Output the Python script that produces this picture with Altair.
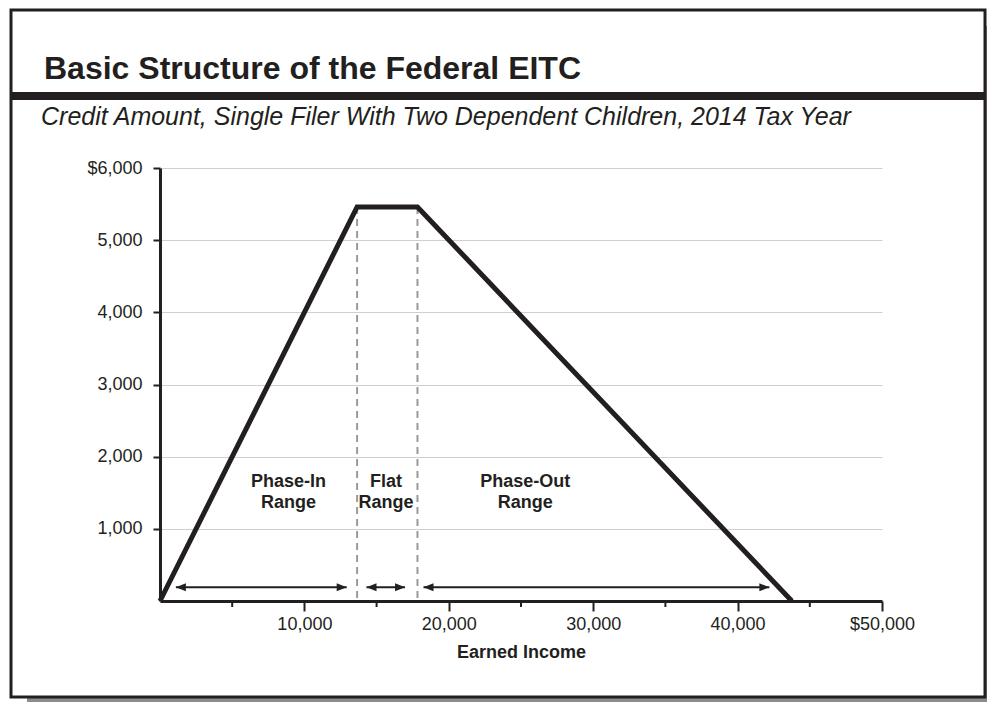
import altair as alt
import pandas as pd

INK = "#231f20"
FONT = "Liberation Sans"

# ---- data ----
income = [0, 13650, 17830, 43756]
credit = [0, 5460, 5460, 0]

bound_income = [13650, 17830]
bound_credit = [5460, 5460]

arrow_start = [1100, 14300, 18250]
arrow_end = [12930, 16970, 42200]
arrow_level = [190, 190, 190]

range_labels = ["Phase-In\nRange", "Flat\nRange", "Phase-Out\nRange"]
label_x = [8900, 15650, 25300]
label_y = [1575, 1575, 1575]

x_major = [10000, 20000, 30000, 40000, 50000]
x_minor = [5000, 15000, 25000, 35000, 45000]
y_ticks = [1000, 2000, 3000, 4000, 5000, 6000]

title_text = "Basic Structure of the Federal EITC"
subtitle_text = "Credit Amount, Single Filer With Two Dependent Children, 2014 Tax Year"
x_title = "Earned Income"

W, H = 722, 433

xs = alt.Scale(domain=[0, 50000], nice=False, zero=True)
ys = alt.Scale(domain=[0, 6000], nice=False, zero=True)

one = pd.DataFrame({"k": [0]})

# frame, shadow, divider
shadow_r = alt.Chart(one).mark_rect(fill="#8c8c8c").encode(
    x=alt.value(826), x2=alt.value(830), y=alt.value(-142), y2=alt.value(534)
)
shadow_b = alt.Chart(one).mark_rect(fill="#8c8c8c").encode(
    x=alt.value(-133), x2=alt.value(830), y=alt.value(530), y2=alt.value(534)
)
frame = alt.Chart(one).mark_rect(fillOpacity=0, stroke=INK, strokeWidth=3).encode(
    x=alt.value(-149), x2=alt.value(825), y=alt.value(-158), y2=alt.value(529)
)
divider = alt.Chart(one).mark_rule(color=INK, strokeWidth=8).encode(
    x=alt.value(-149), x2=alt.value(825), y=alt.value(-72)
)
title = alt.Chart(pd.DataFrame({"t": [title_text]})).mark_text(
    font=FONT, fontSize=32, fontWeight="bold", color=INK, align="left", baseline="alphabetic"
).encode(x=alt.value(-116), y=alt.value(-89), text="t:N")
subtitle = alt.Chart(pd.DataFrame({"t": [subtitle_text]})).mark_text(
    font=FONT, fontSize=25, fontStyle="italic", color=INK, align="left", baseline="alphabetic"
).encode(x=alt.value(-119), y=alt.value(-43), text="t:N")

# dashed boundaries
bounds_df = pd.DataFrame({"income": bound_income, "credit": bound_credit})
bounds = alt.Chart(bounds_df).mark_rule(color="#9a9a9a", strokeWidth=2, strokeDash=[7, 5]).encode(
    x=alt.X("income:Q", scale=xs),
    y=alt.Y("credit:Q", scale=ys),
    y2=alt.datum(0),
)

# minor x ticks
minor_df = pd.DataFrame({"v": x_minor})
minor = alt.Chart(minor_df).mark_rule(color=INK, strokeWidth=2).encode(
    x=alt.X("v:Q", scale=xs), y=alt.value(H), y2=alt.value(H + 6)
)

# main line with axes
line_df = pd.DataFrame({"income": income, "credit": credit})
line = alt.Chart(line_df).mark_line(color=INK, strokeWidth=5, strokeJoin="miter").encode(
    x=alt.X(
        "income:Q",
        scale=xs,
        title=x_title,
        axis=alt.Axis(
            values=x_major,
            labelExpr="datum.value == 50000 ? '$50,000' : format(datum.value, ',')",
            grid=False,
            tickSize=10,
            tickWidth=2,
            tickColor=INK,
            domainColor=INK,
            domainWidth=3,
            labelFont=FONT,
            labelFontSize=18,
            labelColor=INK,
            labelPadding=4,
            labelFlush=False,
            labelOverlap=False,
            titleFont=FONT,
            titleFontSize=18,
            titleFontWeight="bold",
            titleColor=INK,
            titlePadding=10,
        ),
    ),
    y=alt.Y(
        "credit:Q",
        scale=ys,
        title=None,
        axis=alt.Axis(
            values=y_ticks,
            labelExpr="datum.value == 6000 ? '$6,000' : format(datum.value, ',')",
            grid=True,
            gridColor="#cfcfcf",
            gridWidth=1,
            tickSize=7,
            tickWidth=2,
            tickColor=INK,
            domainColor=INK,
            domainWidth=3,
            labelFont=FONT,
            labelFontSize=18,
            labelColor=INK,
            labelPadding=11,
            labelOverlap=False,
        ),
    ),
)

# arrows
arr_df = pd.DataFrame({"s": arrow_start, "e": arrow_end, "y": arrow_level})
shaft = alt.Chart(arr_df).mark_rule(color=INK, strokeWidth=2).encode(
    x=alt.X("s:Q", scale=xs), x2="e:Q", y=alt.Y("y:Q", scale=ys)
)
head_l = alt.Chart(arr_df).mark_point(
    shape="M0,0L1,-0.4L1,0.4Z", filled=True, size=400, color=INK, opacity=1
).encode(x=alt.X("s:Q", scale=xs), y=alt.Y("y:Q", scale=ys))
head_r = alt.Chart(arr_df).mark_point(
    shape="M0,0L-1,-0.4L-1,0.4Z", filled=True, size=400, color=INK, opacity=1
).encode(x=alt.X("e:Q", scale=xs), y=alt.Y("y:Q", scale=ys))

# range labels
lab_df = pd.DataFrame({"t": range_labels, "x": label_x, "y": label_y})
labels = alt.Chart(lab_df).mark_text(
    font=FONT, fontSize=18, fontWeight="bold", color=INK, align="center",
    baseline="alphabetic", lineBreak="\n", lineHeight=21
).encode(x=alt.X("x:Q", scale=xs), y=alt.Y("y:Q", scale=ys), text="t:N")

chart = alt.layer(
    shadow_r, shadow_b, frame, divider, title, subtitle, bounds, minor, line, shaft, head_l, head_r, labels
).properties(
    width=W,
    height=H,
    background="white",
    autosize=alt.AutoSizeParams(type="none"),
    padding={"left": 152, "top": 160, "right": 105, "bottom": 101},
).configure_view(stroke=None)

chart.save("out.html", embed_options={"renderer": "svg", "actions": False})
